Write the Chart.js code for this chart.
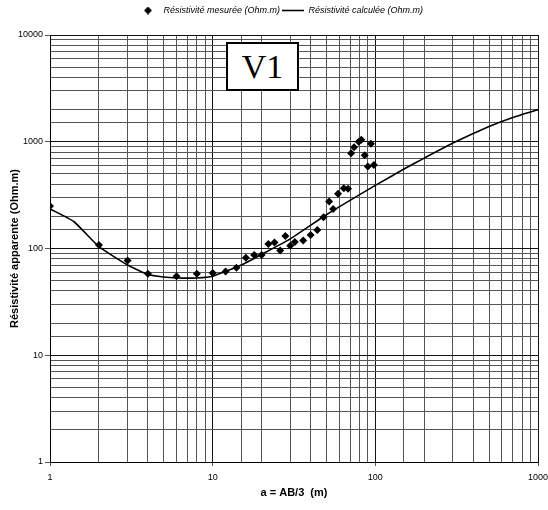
<!DOCTYPE html>
<html>
<head>
<meta charset="utf-8">
<script src="https://cdn.jsdelivr.net/npm/chart.js@4"></script>
<style>
  html, body { margin: 0; padding: 0; background: #fff; }
  #wrap { position: relative; width: 548px; height: 510px; }
  #v1 { position: absolute; left: 226px; top: 42px; width: 69px; height: 45px;
        border: 2px solid #000; background: #fff; font-family: "Liberation Serif", "DejaVu Serif", serif;
        font-size: 34px; line-height: 45px; text-align: center; color: #000; }
</style>
</head>
<body>
<div id="wrap">
  <canvas id="c" width="548" height="510"></canvas>
  <div id="v1">V1</div>
</div>
<script>
// Measured apparent resistivity (Ohm.m) vs a = AB/3 (m)
const measuredX = [1, 2, 3, 4, 6, 8, 10, 12, 14, 16, 18, 20, 22, 24, 26, 28, 30, 32, 36, 40,
                   44, 48, 52, 55, 59, 64, 68, 71, 74, 79, 82, 86, 90, 94, 98];
const measuredY = [250, 108, 77, 58, 55, 58, 59, 61, 66, 82, 87, 87, 110, 114, 96, 131, 106, 115, 119, 134,
                   149, 196, 276, 235, 325, 367, 362, 782, 890, 998, 1042, 749, 586, 956, 607];
// Calculated apparent resistivity (Ohm.m)
const calcX = [1, 1.4, 2, 3, 4, 5, 6, 8, 10, 15, 20, 30, 50, 100, 150, 200, 300, 500, 700, 1000];
const calcY = [235, 179, 104, 70, 57, 54, 53, 53, 55, 70, 88, 123, 207, 390, 555, 703, 972, 1390, 1690, 2000];
// Axis ticks
const xTickLabels = [1, 10, 100, 1000];
const yTickLabels = [1, 10, 100, 1000, 10000];
const seriesNames = ["Résistivité mesurée (Ohm.m)", "Résistivité calculée (Ohm.m)"];
const xTitle = "a = AB/3  (m)";
const yTitle = "Résistivité apparente (Ohm.m)";

const isMajor = v => [...xTickLabels, ...yTickLabels].includes(v);
const FONT = "'Liberation Sans', Arial, sans-serif";

// small diamond glyph for the legend entry
const diamond = document.createElement('canvas');
diamond.width = 8; diamond.height = 8;
(function () {
  const g = diamond.getContext('2d');
  g.fillStyle = '#000';
  g.beginPath(); g.moveTo(4, 0); g.lineTo(8, 4); g.lineTo(4, 8); g.lineTo(0, 4); g.closePath(); g.fill();
})();

const legendHeight = {
  id: 'legendHeight',
  beforeInit(chart) {
    const lg = chart.legend;
    if (lg && !lg._patched) {
      const orig = lg.fit;
      lg.fit = function () { orig.call(this); this.height = 31; };
      lg._patched = true;
    }
  }
};

new Chart(document.getElementById('c'), {
  type: 'scatter',
  data: {
    datasets: [
      {
        label: seriesNames[0],
        data: measuredX.map((x, i) => ({ x, y: measuredY[i] })),
        pointStyle: 'rectRot',
        pointRadius: 4,
        backgroundColor: '#000',
        borderColor: '#000',
        borderWidth: 0,
        showLine: false
      },
      {
        label: seriesNames[1],
        data: calcX.map((x, i) => ({ x, y: calcY[i] })),
        showLine: true,
        pointRadius: 0,
        pointStyle: 'line',
        borderColor: '#000',
        backgroundColor: '#000',
        borderWidth: 1.6,
        tension: 0.15
      }
    ]
  },
  options: {
    responsive: false,
    animation: false,
    layout: { padding: { right: 0, left: 12, top: 4, bottom: 0 } },
    plugins: {
      legend: {
        position: 'top',
        labels: {
          usePointStyle: true,
          pointStyleWidth: 22,
          boxHeight: 8,
          padding: 2,
          color: '#000',
          font: { family: FONT, size: 9, style: 'italic' },
          generateLabels(chart) {
            const items = Chart.defaults.plugins.legend.labels.generateLabels(chart);
            items[0].pointStyle = diamond;
            items[1].pointStyle = 'line';
            items[1].lineWidth = 1.6;
            return items;
          }
        }
      },
      tooltip: { enabled: false }
    },
    scales: {
      x: {
        type: 'logarithmic',
        min: 1, max: 1000,
        afterFit: s => { s.height = 48; s.paddingRight = 10; s.paddingLeft = 0; },
        border: { color: '#000', width: 1 },
        grid: {
          color: c => isMajor(c.tick && c.tick.value) ? '#111' : '#555',
          tickColor: c => isMajor(c.tick && c.tick.value) ? '#555' : 'rgba(0,0,0,0)',
          tickLength: 4,
          lineWidth: 1
        },
        ticks: {
          autoSkip: false,
          maxRotation: 0,
          padding: 6,
          color: '#000',
          font: { family: FONT, size: 9 },
          callback: v => xTickLabels.includes(v) ? String(v) : ''
        },
        title: {
          display: true, text: xTitle, color: '#000', padding: { top: 2, bottom: 10 },
          font: { family: FONT, size: 11, weight: 'bold' }
        }
      },
      y: {
        type: 'logarithmic',
        min: 1, max: 10000,
        afterFit: s => { s.width = 38; },
        border: { color: '#000', width: 1 },
        grid: {
          color: c => isMajor(c.tick && c.tick.value) ? '#111' : '#555',
          tickColor: c => isMajor(c.tick && c.tick.value) ? '#555' : 'rgba(0,0,0,0)',
          tickLength: 5,
          lineWidth: 1
        },
        ticks: {
          autoSkip: false,
          padding: 2,
          color: '#000',
          font: { family: FONT, size: 9 },
          callback: v => yTickLabels.includes(v) ? String(v) : ''
        },
        title: {
          display: true, text: yTitle, color: '#000', padding: { top: -4, bottom: 0 },
          font: { family: FONT, size: 11, weight: 'bold' }
        }
      }
    }
  },
  plugins: [legendHeight]
});
</script>
</body>
</html>
